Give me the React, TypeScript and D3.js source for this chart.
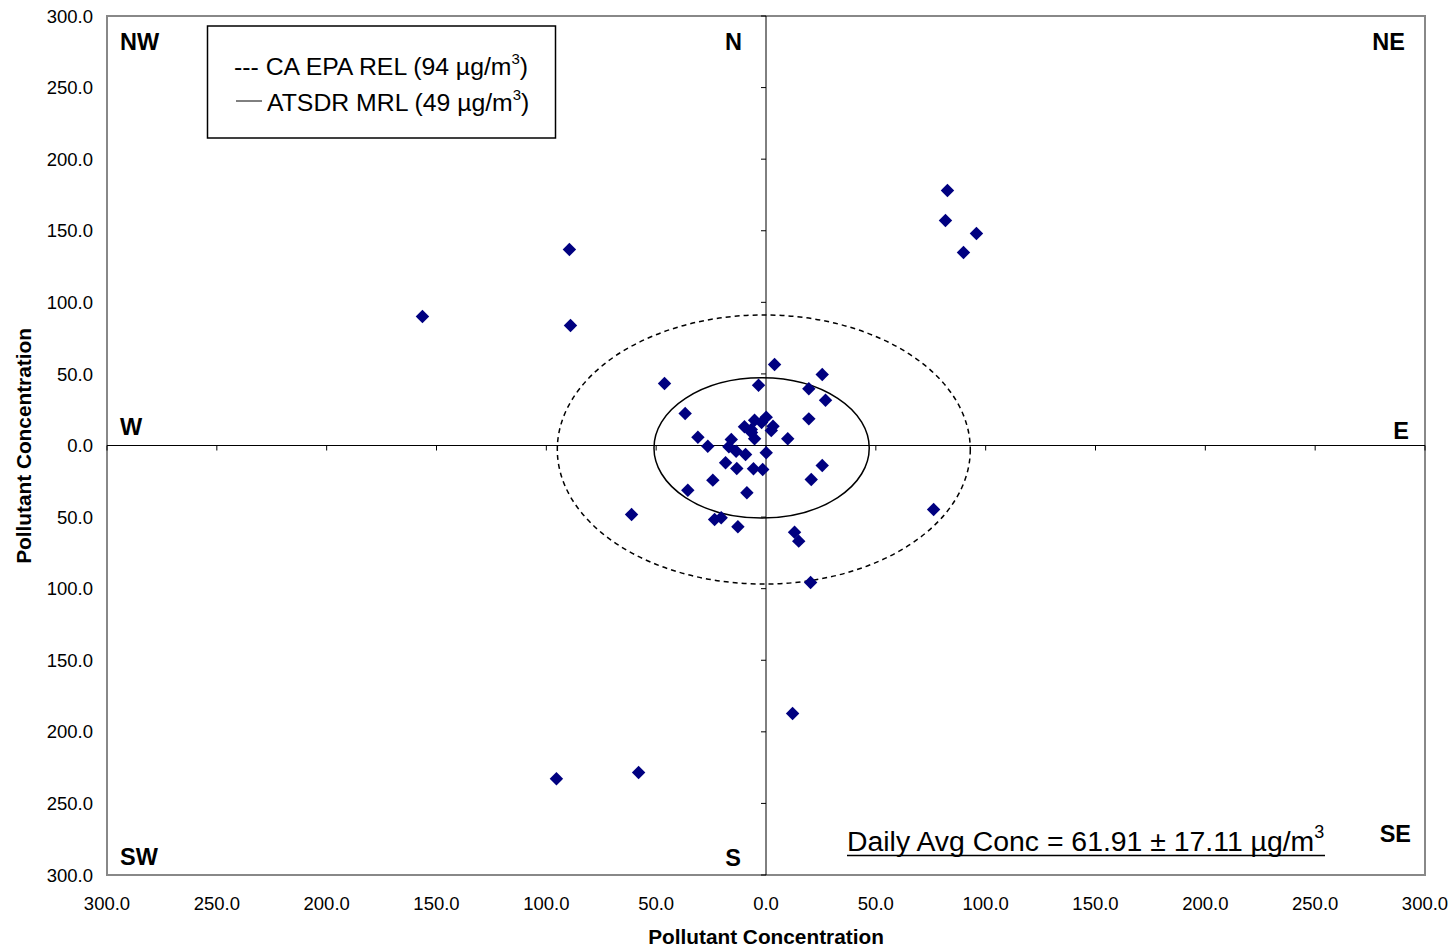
import React from 'react'
import * as d3 from 'd3'

// wind direction scatter: x = east(+)/west(-), y = north(+)/south(-)
const pointsX = [
  -156.4, -89.5, -89.0, 81.7, 82.6, 95.8, 89.9, 3.9, 25.6, -46.2, -3.4, 19.5, 27.1, -36.8, 0.1, 19.5,
  -5.2, -9.8, -6.7, 2.4, -2.0, -5.2, -31.0, -26.5, 9.9, -15.8, -16.9, -13.6, -9.3, 0.1, -18.4, -13.3,
  -5.7, -1.5, 25.6, -24.2, 20.6, -35.6, -8.7, -23.4, -20.4, -12.8, 13.0, 14.9, -61.2, 76.3, 20.3, 12.1,
  -95.4, -58.0, -6.6, 3.2
]
const pointsY = [
  90.1, 136.9, 83.8, 157.2, 178.1, 148.1, 134.8, 56.6, 49.6, 43.3, 42.1, 39.6, 31.6, 22.4, 19.8, 18.6,
  17.7, 13.1, 11.2, 10.5, 16.1, 4.7, 5.8, -0.5, 4.7, 4.2, -0.9, -4.0, -6.3, -5.1, -12.1, -16.1,
  -16.3, -16.8, -14.0, -24.2, -23.7, -31.2, -33.0, -51.7, -50.5, -56.8, -60.6, -66.8, -48.2, -44.7, -95.7, -187.2,
  -232.8, -228.4, 9.1, 13.5
]
const tickValues = [-300, -250, -200, -150, -100, -50, 0, 50, 100, 150, 200, 250, 300]
const refRadii = [94, 49] // CA EPA REL, ATSDR MRL
const refCenters = [[-1, -2.8], [-2, -1.7]]

const FONT = 'Arial, "Liberation Sans", sans-serif'

export default function App() {
  const margin = { left: 107, right: 1425, top: 16, bottom: 875 }
  const x = d3.scaleLinear().domain([-300, 300]).range([margin.left, margin.right])
  const y = d3.scaleLinear().domain([-300, 300]).range([margin.bottom, margin.top])
  const x0 = x(0)
  const y0 = y(0)
  const fmt = d3.format('.1f')
  const diamond = d3.symbol().type(d3.symbolDiamond2).size(115)

  const compass = [
    { t: 'NW', x: 120, y: 50, a: 'start' },
    { t: 'N', x: 742, y: 50, a: 'end' },
    { t: 'NE', x: 1405, y: 50, a: 'end' },
    { t: 'W', x: 120, y: 435, a: 'start' },
    { t: 'E', x: 1409, y: 439, a: 'end' },
    { t: 'SW', x: 120, y: 865, a: 'start' },
    { t: 'S', x: 741, y: 866, a: 'end' },
    { t: 'SE', x: 1411, y: 842, a: 'end' }
  ]

  return (
    <svg width={1456} height={949} style={{ position: 'absolute', left: 0, top: 0, fontFamily: FONT }}>
      <rect width={1456} height={949} fill="white" />
      {/* plot frame */}
      <rect
        x={margin.left}
        y={margin.top}
        width={margin.right - margin.left}
        height={margin.bottom - margin.top}
        fill="none"
        stroke="#888"
        strokeWidth={2}
      />
      {/* cross axes */}
      <line x1={margin.left} x2={margin.right} y1={y0} y2={y0} stroke="black" strokeWidth={1} />
      <line x1={x0} x2={x0} y1={margin.top} y2={margin.bottom} stroke="black" strokeWidth={1} />
      {tickValues.map(v => (
        <line key={'tx' + v} x1={x(v)} x2={x(v)} y1={y0} y2={y0 + 5} stroke="black" strokeWidth={1} />
      ))}
      {tickValues.map(v => (
        <line key={'ty' + v} x1={x0 - 5} x2={x0} y1={y(v)} y2={y(v)} stroke="black" strokeWidth={1} />
      ))}
      {/* tick labels show absolute values */}
      {tickValues.map(v => (
        <text key={'lx' + v} x={x(v)} y={909.5} textAnchor="middle" fontSize={18.5}>
          {fmt(Math.abs(v))}
        </text>
      ))}
      {tickValues.map(v => (
        <text key={'ly' + v} x={93} y={y(v) + 6.6} textAnchor="end" fontSize={18.5}>
          {fmt(Math.abs(v))}
        </text>
      ))}
      <text x={766} y={944} textAnchor="middle" fontSize={20.8} fontWeight="bold">
        Pollutant Concentration
      </text>
      <text transform="translate(31,446) rotate(-90)" textAnchor="middle" fontSize={20.8} fontWeight="bold">
        Pollutant Concentration
      </text>
      {/* reference circles */}
      {refRadii.map((r, i) => (
        <ellipse
          key={'c' + r}
          cx={x(refCenters[i][0])}
          cy={y(refCenters[i][1])}
          rx={x(r) - x0}
          ry={y0 - y(r)}
          fill="none"
          stroke="black"
          strokeWidth={1.5}
          strokeDasharray={i === 0 ? '5,4' : undefined}
        />
      ))}
      {/* points */}
      {pointsX.map((px, i) => (
        <path
          key={'p' + i}
          d={diamond() as string}
          transform={`translate(${x(px)},${y(pointsY[i])})`}
          fill="#000080"
        />
      ))}
      {/* compass labels */}
      {compass.map(c => (
        <text key={c.t} x={c.x} y={c.y} textAnchor={c.a as any} fontSize={23.5} fontWeight="bold">
          {c.t}
        </text>
      ))}
      {/* legend */}
      <rect x={207.5} y={26} width={348} height={112} fill="white" stroke="black" strokeWidth={1.5} />
      <text x={234} y={75} fontSize={24.8}>
        --- CA EPA REL (94 µg/m<tspan dy={-11} fontSize={15}>3</tspan>
        <tspan dy={11}>)</tspan>
      </text>
      <line x1={236} x2={262} y1={101} y2={101} stroke="black" strokeWidth={1} />
      <text x={267} y={111} fontSize={24.8}>
        ATSDR MRL (49 µg/m<tspan dy={-11} fontSize={15}>3</tspan>
        <tspan dy={11}>)</tspan>
      </text>
      {/* annotation */}
      <text x={847} y={851} fontSize={28.4}>
        Daily Avg Conc = 61.91 ± 17.11 µg/m<tspan dy={-13} fontSize={18}>3</tspan>
      </text>
      <line x1={847} x2={1325} y1={855.5} y2={855.5} stroke="black" strokeWidth={1.5} />
    </svg>
  )
}
